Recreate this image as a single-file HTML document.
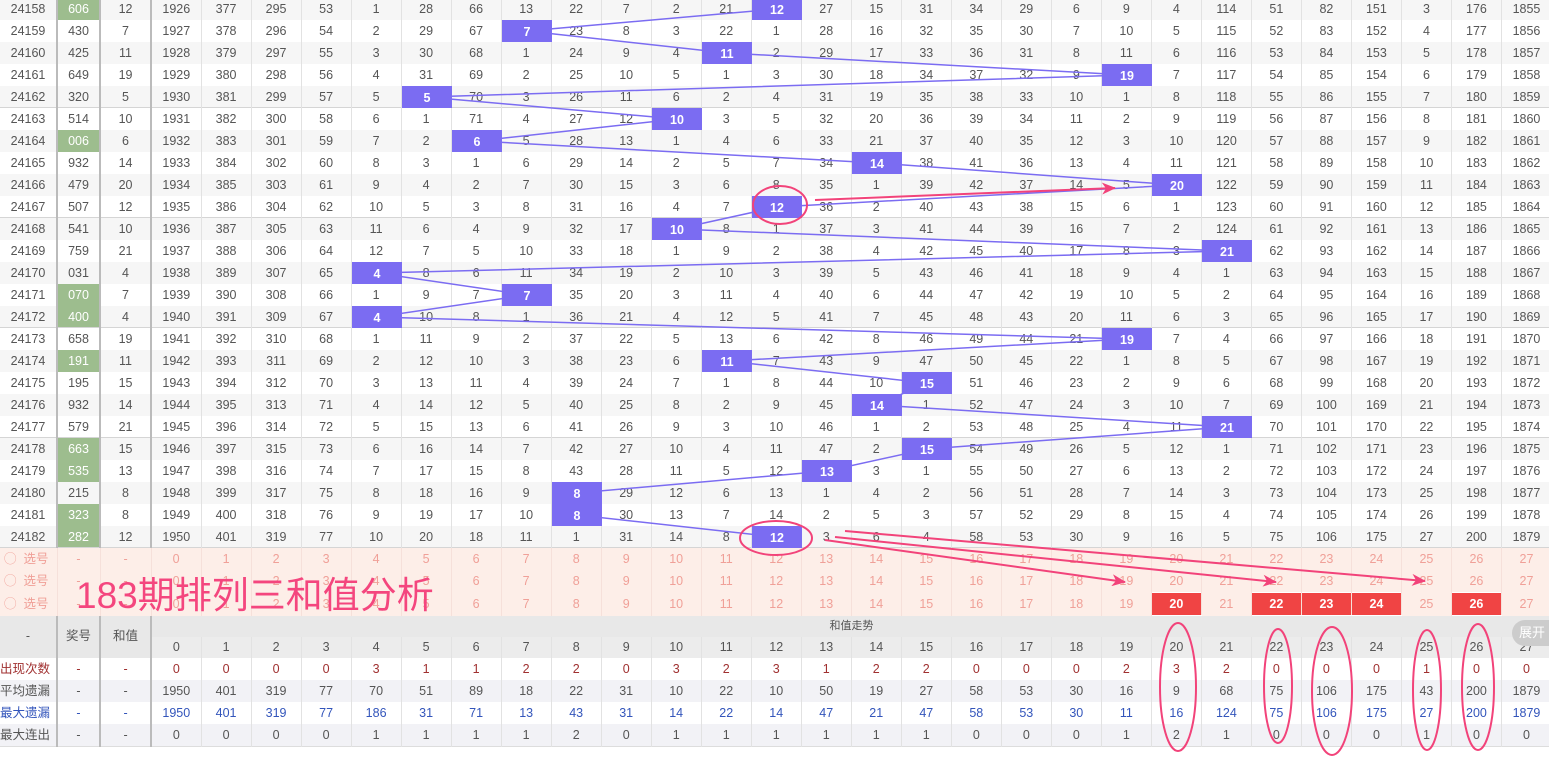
<!DOCTYPE html>
<html><head><meta charset="utf-8"><style>
body{margin:0;width:1549px;height:760px;overflow:hidden;background:#fff;font-family:"Liberation Sans","Noto Sans CJK SC",sans-serif;position:relative}
table{position:absolute;left:0;border-collapse:collapse;table-layout:fixed;font-size:12.5px;color:#555}
td{height:22px;padding:0;text-align:center;border-right:1px solid #e2e2e2;white-space:nowrap;overflow:hidden;line-height:22px}
#d{top:-2px;width:1552px}
#d tr:nth-child(odd){background:#f6f6f6}
#d tr:nth-child(5n) td{box-shadow:inset 0 -1px #d5d5d5}
td.s{border-right:2px solid #bbb}
td.g{background:#9dbd8e;color:#fff}
#x{top:548px;width:1552px}
#x tr.p{background:#fdeee8;color:#f0a098}
#x tr.p td{border-right:1px solid #f6e0da}
#x td.r{background:#f04444;color:#fff;font-weight:bold;border:1px solid #fff}
#x tr.h{background:#e8e8e8}
#x tr.h td{height:21px;line-height:21px}
#x tr.h2 td{background:#ececec;color:#555}
#x tr.st td{color:#555}
#x tr.st:nth-child(odd){background:#f2f2f6}
.c1 td{color:#a03030!important}
.c3 td{color:#3355bb!important}
.c1 td.l,.c3 td.l{text-align:left}
</style></head><body>
<table id="d"><colgroup><col style="width:57px"><col style="width:43px"><col style="width:51px"><col span="28" style="width:50px"></colgroup>
<tr><td class="s">24158</td><td class="g s">606</td><td class="s">12</td><td>1926</td><td>377</td><td>295</td><td>53</td><td>1</td><td>28</td><td>66</td><td>13</td><td>22</td><td>7</td><td>2</td><td>21</td><td></td><td>27</td><td>15</td><td>31</td><td>34</td><td>29</td><td>6</td><td>9</td><td>4</td><td>114</td><td>51</td><td>82</td><td>151</td><td>3</td><td>176</td><td>1855</td></tr>
<tr><td class="s">24159</td><td class="s">430</td><td class="s">7</td><td>1927</td><td>378</td><td>296</td><td>54</td><td>2</td><td>29</td><td>67</td><td></td><td>23</td><td>8</td><td>3</td><td>22</td><td>1</td><td>28</td><td>16</td><td>32</td><td>35</td><td>30</td><td>7</td><td>10</td><td>5</td><td>115</td><td>52</td><td>83</td><td>152</td><td>4</td><td>177</td><td>1856</td></tr>
<tr><td class="s">24160</td><td class="s">425</td><td class="s">11</td><td>1928</td><td>379</td><td>297</td><td>55</td><td>3</td><td>30</td><td>68</td><td>1</td><td>24</td><td>9</td><td>4</td><td></td><td>2</td><td>29</td><td>17</td><td>33</td><td>36</td><td>31</td><td>8</td><td>11</td><td>6</td><td>116</td><td>53</td><td>84</td><td>153</td><td>5</td><td>178</td><td>1857</td></tr>
<tr><td class="s">24161</td><td class="s">649</td><td class="s">19</td><td>1929</td><td>380</td><td>298</td><td>56</td><td>4</td><td>31</td><td>69</td><td>2</td><td>25</td><td>10</td><td>5</td><td>1</td><td>3</td><td>30</td><td>18</td><td>34</td><td>37</td><td>32</td><td>9</td><td></td><td>7</td><td>117</td><td>54</td><td>85</td><td>154</td><td>6</td><td>179</td><td>1858</td></tr>
<tr><td class="s">24162</td><td class="s">320</td><td class="s">5</td><td>1930</td><td>381</td><td>299</td><td>57</td><td>5</td><td></td><td>70</td><td>3</td><td>26</td><td>11</td><td>6</td><td>2</td><td>4</td><td>31</td><td>19</td><td>35</td><td>38</td><td>33</td><td>10</td><td>1</td><td>8</td><td>118</td><td>55</td><td>86</td><td>155</td><td>7</td><td>180</td><td>1859</td></tr>
<tr><td class="s">24163</td><td class="s">514</td><td class="s">10</td><td>1931</td><td>382</td><td>300</td><td>58</td><td>6</td><td>1</td><td>71</td><td>4</td><td>27</td><td>12</td><td></td><td>3</td><td>5</td><td>32</td><td>20</td><td>36</td><td>39</td><td>34</td><td>11</td><td>2</td><td>9</td><td>119</td><td>56</td><td>87</td><td>156</td><td>8</td><td>181</td><td>1860</td></tr>
<tr><td class="s">24164</td><td class="g s">006</td><td class="s">6</td><td>1932</td><td>383</td><td>301</td><td>59</td><td>7</td><td>2</td><td></td><td>5</td><td>28</td><td>13</td><td>1</td><td>4</td><td>6</td><td>33</td><td>21</td><td>37</td><td>40</td><td>35</td><td>12</td><td>3</td><td>10</td><td>120</td><td>57</td><td>88</td><td>157</td><td>9</td><td>182</td><td>1861</td></tr>
<tr><td class="s">24165</td><td class="s">932</td><td class="s">14</td><td>1933</td><td>384</td><td>302</td><td>60</td><td>8</td><td>3</td><td>1</td><td>6</td><td>29</td><td>14</td><td>2</td><td>5</td><td>7</td><td>34</td><td></td><td>38</td><td>41</td><td>36</td><td>13</td><td>4</td><td>11</td><td>121</td><td>58</td><td>89</td><td>158</td><td>10</td><td>183</td><td>1862</td></tr>
<tr><td class="s">24166</td><td class="s">479</td><td class="s">20</td><td>1934</td><td>385</td><td>303</td><td>61</td><td>9</td><td>4</td><td>2</td><td>7</td><td>30</td><td>15</td><td>3</td><td>6</td><td>8</td><td>35</td><td>1</td><td>39</td><td>42</td><td>37</td><td>14</td><td>5</td><td></td><td>122</td><td>59</td><td>90</td><td>159</td><td>11</td><td>184</td><td>1863</td></tr>
<tr><td class="s">24167</td><td class="s">507</td><td class="s">12</td><td>1935</td><td>386</td><td>304</td><td>62</td><td>10</td><td>5</td><td>3</td><td>8</td><td>31</td><td>16</td><td>4</td><td>7</td><td></td><td>36</td><td>2</td><td>40</td><td>43</td><td>38</td><td>15</td><td>6</td><td>1</td><td>123</td><td>60</td><td>91</td><td>160</td><td>12</td><td>185</td><td>1864</td></tr>
<tr><td class="s">24168</td><td class="s">541</td><td class="s">10</td><td>1936</td><td>387</td><td>305</td><td>63</td><td>11</td><td>6</td><td>4</td><td>9</td><td>32</td><td>17</td><td></td><td>8</td><td>1</td><td>37</td><td>3</td><td>41</td><td>44</td><td>39</td><td>16</td><td>7</td><td>2</td><td>124</td><td>61</td><td>92</td><td>161</td><td>13</td><td>186</td><td>1865</td></tr>
<tr><td class="s">24169</td><td class="s">759</td><td class="s">21</td><td>1937</td><td>388</td><td>306</td><td>64</td><td>12</td><td>7</td><td>5</td><td>10</td><td>33</td><td>18</td><td>1</td><td>9</td><td>2</td><td>38</td><td>4</td><td>42</td><td>45</td><td>40</td><td>17</td><td>8</td><td>3</td><td></td><td>62</td><td>93</td><td>162</td><td>14</td><td>187</td><td>1866</td></tr>
<tr><td class="s">24170</td><td class="s">031</td><td class="s">4</td><td>1938</td><td>389</td><td>307</td><td>65</td><td></td><td>8</td><td>6</td><td>11</td><td>34</td><td>19</td><td>2</td><td>10</td><td>3</td><td>39</td><td>5</td><td>43</td><td>46</td><td>41</td><td>18</td><td>9</td><td>4</td><td>1</td><td>63</td><td>94</td><td>163</td><td>15</td><td>188</td><td>1867</td></tr>
<tr><td class="s">24171</td><td class="g s">070</td><td class="s">7</td><td>1939</td><td>390</td><td>308</td><td>66</td><td>1</td><td>9</td><td>7</td><td></td><td>35</td><td>20</td><td>3</td><td>11</td><td>4</td><td>40</td><td>6</td><td>44</td><td>47</td><td>42</td><td>19</td><td>10</td><td>5</td><td>2</td><td>64</td><td>95</td><td>164</td><td>16</td><td>189</td><td>1868</td></tr>
<tr><td class="s">24172</td><td class="g s">400</td><td class="s">4</td><td>1940</td><td>391</td><td>309</td><td>67</td><td></td><td>10</td><td>8</td><td>1</td><td>36</td><td>21</td><td>4</td><td>12</td><td>5</td><td>41</td><td>7</td><td>45</td><td>48</td><td>43</td><td>20</td><td>11</td><td>6</td><td>3</td><td>65</td><td>96</td><td>165</td><td>17</td><td>190</td><td>1869</td></tr>
<tr><td class="s">24173</td><td class="s">658</td><td class="s">19</td><td>1941</td><td>392</td><td>310</td><td>68</td><td>1</td><td>11</td><td>9</td><td>2</td><td>37</td><td>22</td><td>5</td><td>13</td><td>6</td><td>42</td><td>8</td><td>46</td><td>49</td><td>44</td><td>21</td><td></td><td>7</td><td>4</td><td>66</td><td>97</td><td>166</td><td>18</td><td>191</td><td>1870</td></tr>
<tr><td class="s">24174</td><td class="g s">191</td><td class="s">11</td><td>1942</td><td>393</td><td>311</td><td>69</td><td>2</td><td>12</td><td>10</td><td>3</td><td>38</td><td>23</td><td>6</td><td></td><td>7</td><td>43</td><td>9</td><td>47</td><td>50</td><td>45</td><td>22</td><td>1</td><td>8</td><td>5</td><td>67</td><td>98</td><td>167</td><td>19</td><td>192</td><td>1871</td></tr>
<tr><td class="s">24175</td><td class="s">195</td><td class="s">15</td><td>1943</td><td>394</td><td>312</td><td>70</td><td>3</td><td>13</td><td>11</td><td>4</td><td>39</td><td>24</td><td>7</td><td>1</td><td>8</td><td>44</td><td>10</td><td></td><td>51</td><td>46</td><td>23</td><td>2</td><td>9</td><td>6</td><td>68</td><td>99</td><td>168</td><td>20</td><td>193</td><td>1872</td></tr>
<tr><td class="s">24176</td><td class="s">932</td><td class="s">14</td><td>1944</td><td>395</td><td>313</td><td>71</td><td>4</td><td>14</td><td>12</td><td>5</td><td>40</td><td>25</td><td>8</td><td>2</td><td>9</td><td>45</td><td></td><td>1</td><td>52</td><td>47</td><td>24</td><td>3</td><td>10</td><td>7</td><td>69</td><td>100</td><td>169</td><td>21</td><td>194</td><td>1873</td></tr>
<tr><td class="s">24177</td><td class="s">579</td><td class="s">21</td><td>1945</td><td>396</td><td>314</td><td>72</td><td>5</td><td>15</td><td>13</td><td>6</td><td>41</td><td>26</td><td>9</td><td>3</td><td>10</td><td>46</td><td>1</td><td>2</td><td>53</td><td>48</td><td>25</td><td>4</td><td>11</td><td></td><td>70</td><td>101</td><td>170</td><td>22</td><td>195</td><td>1874</td></tr>
<tr><td class="s">24178</td><td class="g s">663</td><td class="s">15</td><td>1946</td><td>397</td><td>315</td><td>73</td><td>6</td><td>16</td><td>14</td><td>7</td><td>42</td><td>27</td><td>10</td><td>4</td><td>11</td><td>47</td><td>2</td><td></td><td>54</td><td>49</td><td>26</td><td>5</td><td>12</td><td>1</td><td>71</td><td>102</td><td>171</td><td>23</td><td>196</td><td>1875</td></tr>
<tr><td class="s">24179</td><td class="g s">535</td><td class="s">13</td><td>1947</td><td>398</td><td>316</td><td>74</td><td>7</td><td>17</td><td>15</td><td>8</td><td>43</td><td>28</td><td>11</td><td>5</td><td>12</td><td></td><td>3</td><td>1</td><td>55</td><td>50</td><td>27</td><td>6</td><td>13</td><td>2</td><td>72</td><td>103</td><td>172</td><td>24</td><td>197</td><td>1876</td></tr>
<tr><td class="s">24180</td><td class="s">215</td><td class="s">8</td><td>1948</td><td>399</td><td>317</td><td>75</td><td>8</td><td>18</td><td>16</td><td>9</td><td></td><td>29</td><td>12</td><td>6</td><td>13</td><td>1</td><td>4</td><td>2</td><td>56</td><td>51</td><td>28</td><td>7</td><td>14</td><td>3</td><td>73</td><td>104</td><td>173</td><td>25</td><td>198</td><td>1877</td></tr>
<tr><td class="s">24181</td><td class="g s">323</td><td class="s">8</td><td>1949</td><td>400</td><td>318</td><td>76</td><td>9</td><td>19</td><td>17</td><td>10</td><td></td><td>30</td><td>13</td><td>7</td><td>14</td><td>2</td><td>5</td><td>3</td><td>57</td><td>52</td><td>29</td><td>8</td><td>15</td><td>4</td><td>74</td><td>105</td><td>174</td><td>26</td><td>199</td><td>1878</td></tr>
<tr><td class="s">24182</td><td class="g s">282</td><td class="s">12</td><td>1950</td><td>401</td><td>319</td><td>77</td><td>10</td><td>20</td><td>18</td><td>11</td><td>1</td><td>31</td><td>14</td><td>8</td><td></td><td>3</td><td>6</td><td>4</td><td>58</td><td>53</td><td>30</td><td>9</td><td>16</td><td>5</td><td>75</td><td>106</td><td>175</td><td>27</td><td>200</td><td>1879</td></tr>
</table>

<table id="x"><colgroup><col style="width:57px"><col style="width:43px"><col style="width:51px"><col span="28" style="width:50px"></colgroup>
<tr class="p"><td class="s" style="text-align:left;padding-left:4px">◯ &nbsp;选号</td><td class="s">-</td><td class="s">-</td><td>0</td><td>1</td><td>2</td><td>3</td><td>4</td><td>5</td><td>6</td><td>7</td><td>8</td><td>9</td><td>10</td><td>11</td><td>12</td><td>13</td><td>14</td><td>15</td><td>16</td><td>17</td><td>18</td><td>19</td><td>20</td><td>21</td><td>22</td><td>23</td><td>24</td><td>25</td><td>26</td><td>27</td></tr>
<tr class="p"><td class="s" style="text-align:left;padding-left:4px">◯ &nbsp;选号</td><td class="s">-</td><td class="s">-</td><td>0</td><td>1</td><td>2</td><td>3</td><td>4</td><td>5</td><td>6</td><td>7</td><td>8</td><td>9</td><td>10</td><td>11</td><td>12</td><td>13</td><td>14</td><td>15</td><td>16</td><td>17</td><td>18</td><td>19</td><td>20</td><td>21</td><td>22</td><td>23</td><td>24</td><td>25</td><td>26</td><td>27</td></tr>
<tr class="p"><td class="s" style="text-align:left;padding-left:4px">◯ &nbsp;选号</td><td class="s">-</td><td class="s">-</td><td>0</td><td>1</td><td>2</td><td>3</td><td>4</td><td>5</td><td>6</td><td>7</td><td>8</td><td>9</td><td>10</td><td>11</td><td>12</td><td>13</td><td>14</td><td>15</td><td>16</td><td>17</td><td>18</td><td>19</td><td class="r">20</td><td>21</td><td class="r">22</td><td class="r">23</td><td class="r">24</td><td>25</td><td class="r">26</td><td>27</td></tr>
<tr class="h"><td class="s" rowspan="2">-</td><td class="s" rowspan="2">奖号</td><td class="s" rowspan="2">和值</td><td colspan="28" style="font-size:11px;color:#555">和值走势</td></tr>
<tr class="h h2"><td>0</td><td>1</td><td>2</td><td>3</td><td>4</td><td>5</td><td>6</td><td>7</td><td>8</td><td>9</td><td>10</td><td>11</td><td>12</td><td>13</td><td>14</td><td>15</td><td>16</td><td>17</td><td>18</td><td>19</td><td>20</td><td>21</td><td>22</td><td>23</td><td>24</td><td>25</td><td>26</td><td>27</td></tr>
<tr class="st c1"><td class="s l">出现次数</td><td class="s">-</td><td class="s">-</td><td>0</td><td>0</td><td>0</td><td>0</td><td>3</td><td>1</td><td>1</td><td>2</td><td>2</td><td>0</td><td>3</td><td>2</td><td>3</td><td>1</td><td>2</td><td>2</td><td>0</td><td>0</td><td>0</td><td>2</td><td>3</td><td>2</td><td>0</td><td>0</td><td>0</td><td>1</td><td>0</td><td>0</td></tr>
<tr class="st"><td class="s" style="text-align:left">平均遗漏</td><td class="s">-</td><td class="s">-</td><td>1950</td><td>401</td><td>319</td><td>77</td><td>70</td><td>51</td><td>89</td><td>18</td><td>22</td><td>31</td><td>10</td><td>22</td><td>10</td><td>50</td><td>19</td><td>27</td><td>58</td><td>53</td><td>30</td><td>16</td><td>9</td><td>68</td><td>75</td><td>106</td><td>175</td><td>43</td><td>200</td><td>1879</td></tr>
<tr class="st c3"><td class="s l">最大遗漏</td><td class="s">-</td><td class="s">-</td><td>1950</td><td>401</td><td>319</td><td>77</td><td>186</td><td>31</td><td>71</td><td>13</td><td>43</td><td>31</td><td>14</td><td>22</td><td>14</td><td>47</td><td>21</td><td>47</td><td>58</td><td>53</td><td>30</td><td>11</td><td>16</td><td>124</td><td>75</td><td>106</td><td>175</td><td>27</td><td>200</td><td>1879</td></tr>
<tr class="st" style="border-bottom:1px solid #ddd"><td class="s" style="text-align:left">最大连出</td><td class="s">-</td><td class="s">-</td><td>0</td><td>0</td><td>0</td><td>0</td><td>1</td><td>1</td><td>1</td><td>1</td><td>2</td><td>0</td><td>1</td><td>1</td><td>1</td><td>1</td><td>1</td><td>1</td><td>0</td><td>0</td><td>0</td><td>1</td><td>2</td><td>1</td><td>0</td><td>0</td><td>0</td><td>1</td><td>0</td><td>0</td></tr>
</table>

<div style="position:absolute;left:1512px;top:620px;width:40px;height:26px;border-radius:13px 0 0 13px;background:#ccc;color:#fff;font-size:13px;line-height:26px;text-align:center">展开</div>
<div style="position:absolute;left:76px;top:571px;font-size:37px;color:#f4467e;line-height:50px">183期排列三和值分析</div>

<svg width="1549" height="760" style="position:absolute;left:0;top:0" font-family="Liberation Sans" font-size="12.5">
<defs><marker id="a" markerWidth="14" markerHeight="12" refX="13" refY="6" orient="auto" markerUnits="userSpaceOnUse"><path d="M0,0 L14,6 L0,12 L4,6z" fill="#f2437a"/></marker></defs>
<polyline fill="none" stroke="#7b6cf2" stroke-width="1.5" points="777,9 527,31 727,53 1127,75 427,97 677,119 477,141 877,163 1177,185 777,207 677,229 1227,251 377,273 527,295 377,317 1127,339 727,361 927,383 877,405 1227,427 927,449 827,471 577,493 577,515 777,537"/>
<g fill="#7b6cf2">
<rect x="752" y="-2" width="50" height="22"/><rect x="502" y="20" width="50" height="22"/><rect x="702" y="42" width="50" height="22"/><rect x="1102" y="64" width="50" height="22"/><rect x="402" y="86" width="50" height="22"/><rect x="652" y="108" width="50" height="22"/><rect x="452" y="130" width="50" height="22"/><rect x="852" y="152" width="50" height="22"/><rect x="1152" y="174" width="50" height="22"/><rect x="752" y="196" width="50" height="22"/><rect x="652" y="218" width="50" height="22"/><rect x="1202" y="240" width="50" height="22"/><rect x="352" y="262" width="50" height="22"/><rect x="502" y="284" width="50" height="22"/><rect x="352" y="306" width="50" height="22"/><rect x="1102" y="328" width="50" height="22"/><rect x="702" y="350" width="50" height="22"/><rect x="902" y="372" width="50" height="22"/><rect x="852" y="394" width="50" height="22"/><rect x="1202" y="416" width="50" height="22"/><rect x="902" y="438" width="50" height="22"/><rect x="802" y="460" width="50" height="22"/><rect x="552" y="482" width="50" height="22"/><rect x="552" y="504" width="50" height="22"/><rect x="752" y="526" width="50" height="22"/>
</g>
<g fill="#fff" font-weight="bold" text-anchor="middle">
<text x="777" y="14">12</text><text x="527" y="36">7</text><text x="727" y="58">11</text><text x="1127" y="80">19</text><text x="427" y="102">5</text><text x="677" y="124">10</text><text x="477" y="146">6</text><text x="877" y="168">14</text><text x="1177" y="190">20</text><text x="777" y="212">12</text><text x="677" y="234">10</text><text x="1227" y="256">21</text><text x="377" y="278">4</text><text x="527" y="300">7</text><text x="377" y="322">4</text><text x="1127" y="344">19</text><text x="727" y="366">11</text><text x="927" y="388">15</text><text x="877" y="410">14</text><text x="1227" y="432">21</text><text x="927" y="454">15</text><text x="827" y="476">13</text><text x="577" y="498">8</text><text x="577" y="520">8</text><text x="777" y="542">12</text>
</g>
<g fill="none" stroke="#f2437a" stroke-width="2">
<ellipse cx="780" cy="205" rx="27" ry="19"/>
<ellipse cx="776" cy="538" rx="36" ry="17"/>
<line x1="815" y1="200" x2="1115" y2="188" marker-end="url(#a)"/>
<line x1="825" y1="540" x2="1125" y2="582" marker-end="url(#a)"/>
<line x1="835" y1="537" x2="1276" y2="582" marker-end="url(#a)"/>
<line x1="845" y1="531" x2="1425" y2="581" marker-end="url(#a)"/>
<ellipse cx="1178" cy="687" rx="18" ry="64"/>
<ellipse cx="1278" cy="686" rx="14" ry="57"/>
<ellipse cx="1332" cy="691" rx="20" ry="64"/>
<ellipse cx="1427" cy="690" rx="14" ry="60"/>
<ellipse cx="1478" cy="687" rx="16" ry="63"/>
</g>
</svg>
</body></html>
